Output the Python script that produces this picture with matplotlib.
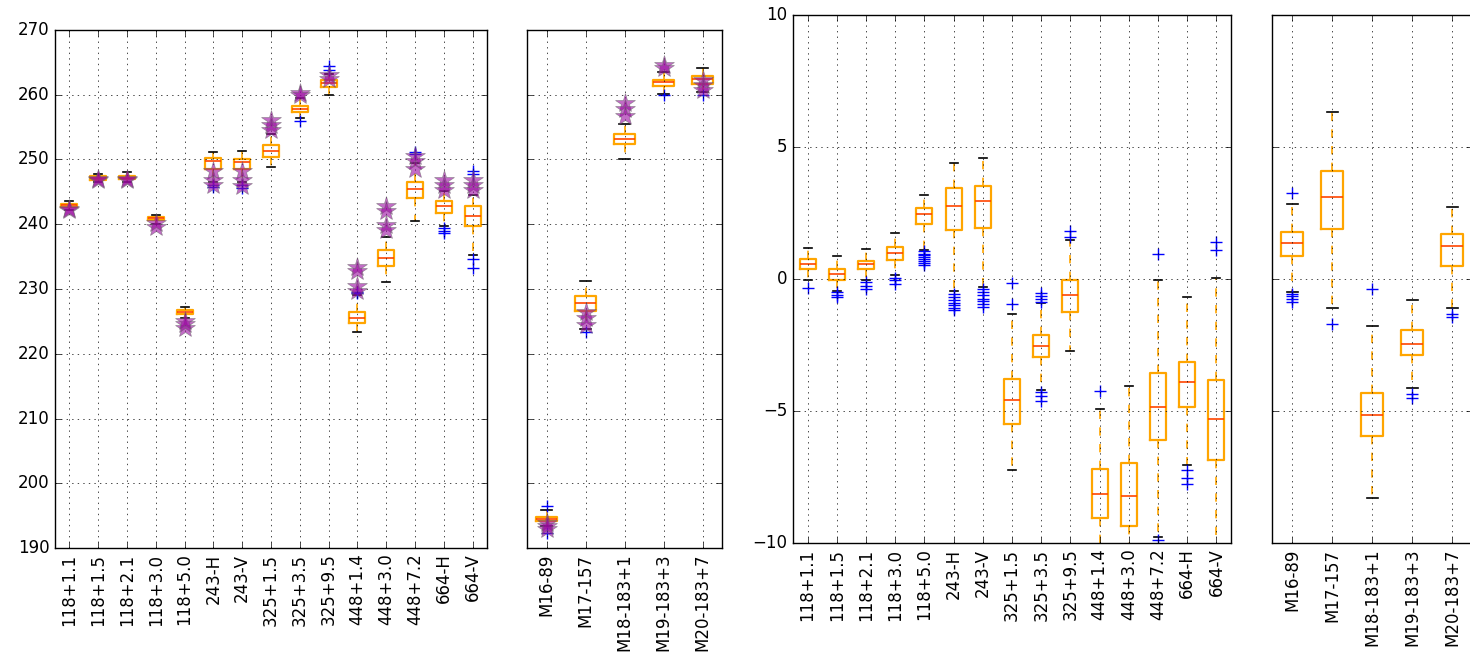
import matplotlib
matplotlib.use("Agg")
import matplotlib.pyplot as plt

# channels
labels1 = ['118+1.1', '118+1.5', '118+2.1', '118+3.0', '118+5.0', '243-H', '243-V',
           '325+1.5', '325+3.5', '325+9.5', '448+1.4', '448+3.0', '448+7.2', '664-H', '664-V']
labels2 = ['M16-89', 'M17-157', 'M18-183+1', 'M19-183+3', 'M20-183+7']

# left panel: brightness temperature boxes (K)
med1 = [243.0, 247.1, 247.2, 240.9, 226.4, 249.7, 249.6, 251.3, 257.8, 261.8, 225.5, 234.8, 245.4, 242.8, 241.3]
q1_1 = [242.7, 246.8, 247.0, 240.6, 226.1, 248.6, 248.6, 250.4, 257.3, 261.2, 224.7, 233.6, 244.0, 241.7, 239.8]
q3_1 = [243.1, 247.4, 247.5, 241.1, 226.7, 250.3, 250.1, 252.2, 258.2, 262.3, 226.4, 236.0, 246.6, 243.6, 242.8]
lo1 = [242.2, 246.5, 246.6, 240.0, 225.5, 246.5, 246.5, 248.8, 256.4, 259.9, 223.3, 231.1, 240.5, 239.8, 235.2]
hi1 = [243.6, 247.7, 248.0, 241.5, 227.2, 251.2, 251.3, 254.0, 259.5, 263.2, 229.1, 238.0, 249.5, 245.2, 244.5]
fliers1 = [[], [], [], [], [], [246.0, 245.7], [246.0, 245.6], [], [255.9], [264.4, 263.8],
           [229.6, 229.4], [], [251.2, 250.8], [239.4, 239.0, 238.6], [234.6, 233.2, 248.2, 247.7]]
stars1 = [[242.2, 242.4], [246.8, 247.0], [246.8, 247.0], [239.6, 240.2], [223.9, 224.6, 225.0],
          [248.3, 246.8, 246.1], [248.2, 246.8, 245.9], [256.1, 255.3, 254.6], [260.3, 260.0],
          [263.0, 262.4], [233.4, 232.8, 230.4, 229.7], [242.8, 242.0, 239.9, 239.1],
          [250.5, 249.7, 248.6], [246.8, 246.1, 245.3], [246.8, 246.1, 245.3]]

med2 = [194.5, 227.8, 253.2, 261.9, 262.4]
q1_2 = [194.1, 226.6, 252.4, 261.4, 261.7]
q3_2 = [194.8, 228.9, 254.0, 262.3, 262.9]
lo2 = [193.4, 223.8, 250.1, 260.1, 260.4]
hi2 = [195.9, 231.2, 255.5, 263.5, 264.1]
fliers2 = [[196.5, 192.3], [223.4], [], [259.9], [259.9]]
stars2 = [[193.8, 193.0, 193.4], [226.4, 225.5, 224.5], [258.7, 257.8, 256.7], [264.6, 264.1],
          [262.3, 261.5, 260.7]]

# right panel: differences (K)
med3 = [0.58, 0.18, 0.55, 0.99, 2.45, 2.78, 2.94, -4.57, -2.53, -0.62, -8.14, -8.22, -4.85, -3.92, -5.30]
q1_3 = [0.36, -0.03, 0.36, 0.72, 2.07, 1.85, 1.95, -5.48, -2.97, -1.24, -9.05, -9.34, -6.08, -4.86, -6.85]
q3_3 = [0.77, 0.38, 0.67, 1.21, 2.70, 3.44, 3.53, -3.78, -2.13, -0.05, -7.19, -6.97, -3.57, -3.15, -3.82]
lo3 = [-0.05, -0.45, -0.05, 0.16, 1.10, -0.47, -0.30, -7.22, -4.20, -2.73, -10.5, -10.5, -9.78, -7.06, -10.5]
hi3 = [1.19, 0.88, 1.12, 1.74, 3.20, 4.39, 4.60, -1.34, -0.92, 1.46, -4.91, -4.06, -0.05, -0.67, 0.05]
fliers3 = [[-0.33], [-0.5, -0.6, -0.68], [-0.12, -0.25, -0.39], [0.04, -0.05, -0.18],
           [1.05, 0.95, 0.9, 0.82, 0.75, 0.68, 0.6, 0.52],
           [-0.55, -0.7, -0.8, -0.9, -1.0, -1.1, -1.19],
           [-0.37, -0.5, -0.6, -0.75, -0.85, -0.95, -1.07],
           [-0.14, -0.95], [-0.54, -0.65, -0.75, -0.86, -4.28, -4.45, -4.63], [1.8, 1.6],
           [-4.25], [], [0.94, -9.9], [-7.25, -7.55, -7.76], [1.42, 1.1]]

med4 = [1.37, 3.09, -5.17, -2.47, 1.25]
q1_4 = [0.86, 1.89, -5.96, -2.88, 0.50]
q3_4 = [1.79, 4.08, -4.31, -1.93, 1.69]
lo4 = [-0.50, -1.08, -8.30, -4.14, -1.08]
hi4 = [2.83, 6.33, -1.79, -0.79, 2.74]
fliers4 = [[3.25, -0.56, -0.65, -0.75, -0.88], [-1.70], [-0.37], [-4.37, -4.50], [-1.32, -1.45]]


plt.style.use('classic')
plt.rcParams['figure.facecolor'] = 'white'
plt.rcParams['savefig.facecolor'] = 'white'


def make_stats(med, q1, q3, lo, hi, fl):
    out = []
    for i in range(len(med)):
        out.append({'med': med[i], 'q1': q1[i], 'q3': q3[i],
                    'whislo': lo[i], 'whishi': hi[i], 'fliers': fl[i]})
    return out


def draw(ax, stats, labels, stars=None):
    pos = list(range(1, len(labels) + 1))
    ax.bxp(stats, positions=pos, widths=0.55, showfliers=True,
           boxprops=dict(color='orange', linewidth=1.6),
           whiskerprops=dict(color='orange', linestyle='--', linewidth=1.2),
           capprops=dict(color='k', linewidth=1.2),
           medianprops=dict(color='orangered', linewidth=1.2),
           flierprops=dict(marker='+', markeredgecolor='b', markersize=8, linestyle='none'))
    if stars is not None:
        for p, s in zip(pos, stars):
            ax.plot([p] * len(s), s, '*', color='#9a0aa0', alpha=0.6, markersize=15,
                    markeredgecolor='0.4', markeredgewidth=0.5, zorder=5)
    ax.set_xlim(0.5, len(labels) + 0.5)
    ax.set_xticks(pos)
    ax.set_xticklabels(labels, rotation=90)
    ax.grid(True)


fig = plt.figure(figsize=(14.7, 6.58), dpi=100)
W, H = 1470.0, 658.0
ax1 = fig.add_axes([55 / W, 1 - 548 / H, 432 / W, 518 / H])
ax2 = fig.add_axes([527 / W, 1 - 548 / H, 195 / W, 518 / H], sharey=ax1)
ax3 = fig.add_axes([793 / W, 1 - 543 / H, 438 / W, 528 / H])
ax4 = fig.add_axes([1272 / W, 1 - 543 / H, 200 / W, 528 / H], sharey=ax3)

draw(ax1, make_stats(med1, q1_1, q3_1, lo1, hi1, fliers1), labels1, stars1)
draw(ax2, make_stats(med2, q1_2, q3_2, lo2, hi2, fliers2), labels2, stars2)
draw(ax3, make_stats(med3, q1_3, q3_3, lo3, hi3, fliers3), labels1)
draw(ax4, make_stats(med4, q1_4, q3_4, lo4, hi4, fliers4), labels2)

ax1.set_ylim(190, 270)
ax3.set_ylim(-10, 10)
ax2.tick_params(labelleft=False)
ax4.tick_params(labelleft=False)

fig.savefig('out.png', dpi=100)
